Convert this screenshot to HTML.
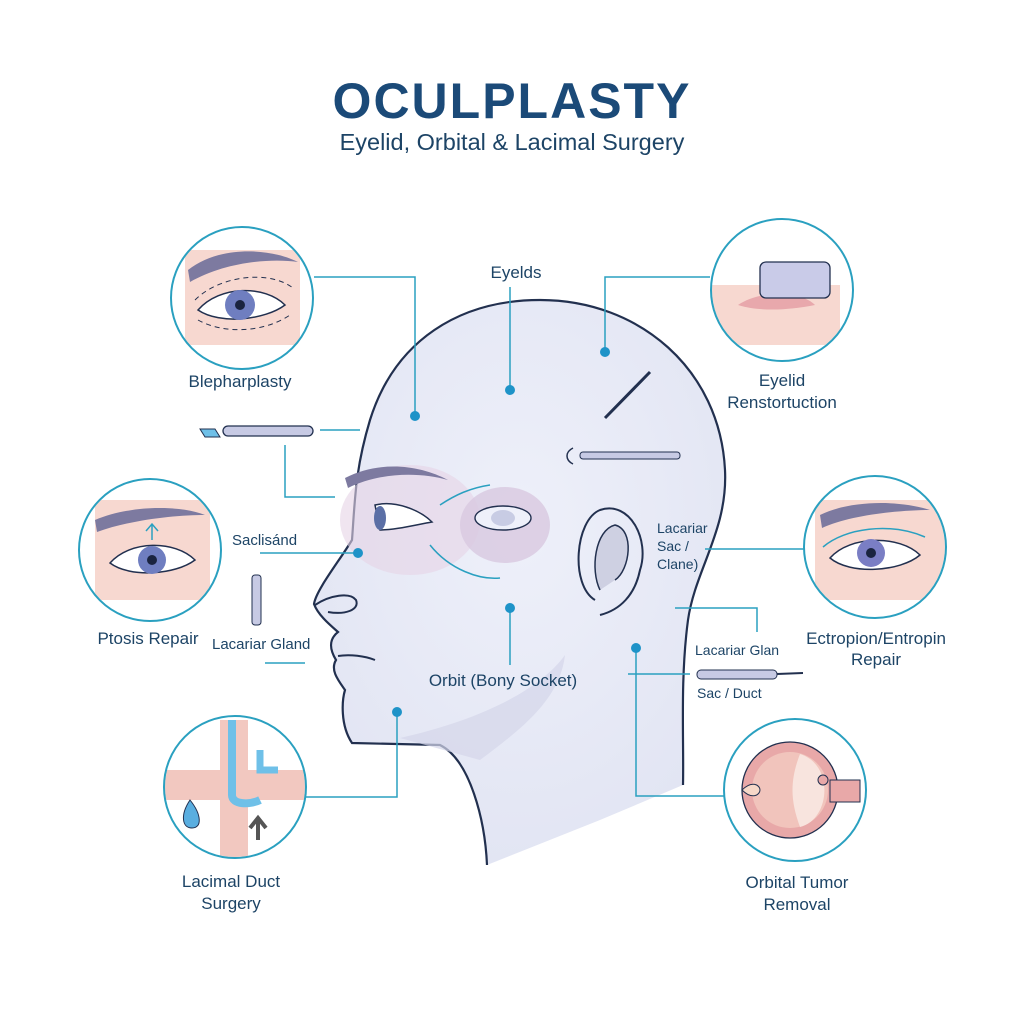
<!DOCTYPE html>
<html><head><meta charset="utf-8"><style>
html,body{margin:0;padding:0;background:#fff}
svg{display:block}
text{font-family:"Liberation Sans",sans-serif;fill:#1d4466}
</style></head><body>
<svg width="1024" height="1024" viewBox="0 0 1024 1024">
<defs>
<radialGradient id="hg" cx="0.5" cy="0.4" r="0.6"><stop offset="0" stop-color="#eef0fa"/><stop offset="1" stop-color="#e2e5f3"/></radialGradient>
<clipPath id="c1"><circle cx="242" cy="298" r="70"/></clipPath>
<clipPath id="c2"><circle cx="782" cy="290" r="70"/></clipPath>
<clipPath id="c3"><circle cx="150" cy="550" r="70"/></clipPath>
<clipPath id="c4"><circle cx="875" cy="547" r="70"/></clipPath>
<clipPath id="c5"><circle cx="235" cy="787" r="70"/></clipPath>
<clipPath id="c6"><circle cx="795" cy="790" r="70"/></clipPath>
</defs>
<text x="512" y="118" text-anchor="middle" font-size="50" font-weight="bold" letter-spacing="2" style="fill:#1b4a78">OCULPLASTY</text>
<text x="512" y="150" text-anchor="middle" font-size="23.5">Eyelid, Orbital &amp; Lacimal Surgery</text>

<path d="M487,865 C485,820 470,760 440,745 L352,743 C340,725 342,700 345,690 C338,680 330,670 336,660 C330,650 328,640 338,632 C330,625 318,615 314,604 C316,590 340,560 352,540 C355,500 355,470 370,420 C395,340 460,300 540,300 C640,300 720,370 725,470 C728,530 695,570 688,620 C680,680 684,740 683,785 L600,820 Z" fill="url(#hg)"/>
<path d="M487,865 C485,820 470,760 440,745 L352,743 C340,725 342,700 345,690 C338,680 330,670 336,660 C330,650 328,640 338,632 C330,625 318,615 314,604 C316,590 340,560 352,540 C355,500 355,470 370,420 C395,340 460,300 540,300 C640,300 720,370 725,470 C728,530 695,570 688,620 C680,680 684,740 683,785" fill="none" stroke="#22304f" stroke-width="2.2"/>
<path d="M400,738 C480,720 540,690 565,655 C560,700 520,730 480,760 Z" fill="#d4d5ea" opacity="0.7"/>
<path d="M315,605 C330,595 350,592 356,600 C360,610 345,615 328,612" fill="none" stroke="#22304f" stroke-width="2"/>
<path d="M338,656 C350,654 365,656 375,660" fill="none" stroke="#22304f" stroke-width="2"/>
<ellipse cx="410" cy="520" rx="70" ry="55" fill="#e6d4e6" opacity="0.6"/>
<path d="M345,478 C380,460 420,465 448,480 C420,472 380,472 348,488 Z" fill="#7d7aa0"/>
<path d="M375,505 C395,500 420,510 432,522 C415,525 395,530 380,530 Z" fill="#fff" stroke="#22304f" stroke-width="1.5"/>
<ellipse cx="380" cy="518" rx="6" ry="12" fill="#5b6fa6"/>
<ellipse cx="505" cy="525" rx="45" ry="38" fill="#d8c8e0" opacity="0.8"/>
<ellipse cx="503" cy="518" rx="28" ry="12" fill="#eef0fa" stroke="#22304f" stroke-width="1.4"/>
<ellipse cx="503" cy="518" rx="12" ry="8" fill="#c8cce4"/>
<path d="M430,545 C450,570 480,580 500,578 M440,505 C455,495 470,488 490,485" fill="none" stroke="#2aa0c0" stroke-width="1.5"/>
<path d="M595,600 C570,585 575,520 600,510 C630,500 650,540 640,570 C635,595 620,610 600,615" fill="none" stroke="#22304f" stroke-width="2"/>
<path d="M600,590 C590,570 595,530 615,525 C635,530 630,570 615,580" fill="#ced0e2" stroke="#22304f" stroke-width="1.5"/>
<g stroke="#2aa0c0" stroke-width="1.5" fill="none">
<path d="M314,277 H415 V415"/>
<path d="M510,287 V388"/>
<path d="M605,352 V277 H710"/>
<path d="M320,430 H360"/>
<path d="M285,445 V497 H335"/>
<path d="M260,553 H357"/>
<path d="M265,663 H305"/>
<path d="M510,605 V665"/>
<path d="M305,797 H397 V711"/>
<path d="M705,549 H805"/>
<path d="M675,608 H757 V632"/>
<path d="M628,674 H690"/>
<path d="M636,648 V796 H725"/>
</g>
<g fill="#1e93c8">
<circle cx="415" cy="416" r="5"/><circle cx="510" cy="390" r="5"/><circle cx="605" cy="352" r="5"/>
<circle cx="358" cy="553" r="5"/><circle cx="510" cy="608" r="5"/><circle cx="397" cy="712" r="5"/><circle cx="636" cy="648" r="5"/>
</g>
<path d="M200,429 H215 L220,437 H205 Z" fill="#6fc0e8" stroke="#22304f"/>
<rect x="223" y="426" width="90" height="10" rx="5" fill="#c7cae4" stroke="#22304f" stroke-width="1.3"/>
<path d="M605,418 L650,372" stroke="#22304f" stroke-width="3"/>
<rect x="580" y="452" width="100" height="7" rx="3" fill="#c7cae4" stroke="#22304f"/>
<path d="M573,448 C565,452 565,460 573,464" fill="none" stroke="#22304f" stroke-width="1.5"/>
<rect x="252" y="575" width="9" height="50" rx="3" fill="#c7cae4" stroke="#22304f"/>
<rect x="697" y="670" width="80" height="9" rx="4" fill="#c7cae4" stroke="#22304f"/>
<path d="M777,674 L803,673" stroke="#22304f" stroke-width="2"/>
<text x="516" y="278" text-anchor="middle" font-size="17">Eyelds</text>
<text x="240" y="387" text-anchor="middle" font-size="17">Blepharplasty</text>
<text x="782" y="386" text-anchor="middle" font-size="17">Eyelid</text>
<text x="782" y="408" text-anchor="middle" font-size="17">Renstortuction</text>
<text x="232" y="545" font-size="15">Saclisánd</text>
<text x="148" y="644" text-anchor="middle" font-size="17">Ptosis Repair</text>
<text x="212" y="649" font-size="15">Lacariar Gland</text>
<text x="657" y="533" font-size="14">Lacariar</text>
<text x="657" y="551" font-size="14">Sac /</text>
<text x="657" y="569" font-size="14">Clane)</text>
<text x="876" y="644" text-anchor="middle" font-size="17">Ectropion/Entropin</text>
<text x="876" y="665" text-anchor="middle" font-size="17">Repair</text>
<text x="695" y="655" font-size="14">Lacariar Glan</text>
<text x="697" y="698" font-size="14">Sac / Duct</text>
<text x="503" y="686" text-anchor="middle" font-size="17">Orbit (Bony Socket)</text>
<text x="231" y="887" text-anchor="middle" font-size="17">Lacimal Duct</text>
<text x="231" y="909" text-anchor="middle" font-size="17">Surgery</text>
<text x="797" y="888" text-anchor="middle" font-size="17">Orbital Tumor</text>
<text x="797" y="910" text-anchor="middle" font-size="17">Removal</text>
<g clip-path="url(#c1)"><rect x="185" y="250" width="115" height="95" fill="#f7d8d0"/>
<path d="M188,270 C220,245 270,248 298,262 C270,258 225,262 190,282 Z" fill="#7d7aa0"/>
<path d="M198,310 C220,285 265,285 285,305 C265,320 220,325 198,310 Z" fill="#fff" stroke="#22304f" stroke-width="1.5"/>
<circle cx="240" cy="305" r="15" fill="#6f7ec0"/><circle cx="240" cy="305" r="5" fill="#1a2440"/>
<path d="M195,300 C220,275 270,270 293,288 M198,320 C225,335 265,332 290,315" fill="none" stroke="#22304f" stroke-dasharray="5 4"/></g>
<circle cx="242" cy="298" r="71" fill="none" stroke="#2aa0c0" stroke-width="2"/>
<g clip-path="url(#c2)"><rect x="705" y="285" width="135" height="60" fill="#f7d8d0"/>
<path d="M738,305 C760,290 800,290 815,305 C790,310 760,312 738,305 Z" fill="#e8a8ac"/>
<rect x="760" y="262" width="70" height="36" rx="6" fill="#c9cbe8" stroke="#22304f" stroke-width="1.3"/></g>
<circle cx="782" cy="290" r="71" fill="none" stroke="#2aa0c0" stroke-width="2"/>
<g clip-path="url(#c3)"><rect x="95" y="500" width="115" height="100" fill="#f7d8d0"/>
<path d="M95,520 C130,505 180,505 205,515 C175,515 130,520 97,532 Z" fill="#7d7aa0"/>
<path d="M110,563 C130,540 175,540 195,560 C175,575 130,578 110,563 Z" fill="#fff" stroke="#22304f" stroke-width="1.5"/>
<circle cx="152" cy="560" r="14" fill="#6f7ec0"/><circle cx="152" cy="560" r="5" fill="#1a2440"/>
<path d="M152,540 V525 M146,531 L152,524 L158,531" fill="none" stroke="#2aa0c0" stroke-width="1.5"/></g>
<circle cx="150" cy="550" r="71" fill="none" stroke="#2aa0c0" stroke-width="2"/>
<g clip-path="url(#c4)"><rect x="815" y="500" width="130" height="100" fill="#f7d8d0"/>
<path d="M820,515 C850,500 900,500 930,510 C900,510 850,515 822,528 Z" fill="#7d7aa0"/>
<path d="M830,558 C850,535 900,535 920,555 C900,572 850,575 830,558 Z" fill="#fff" stroke="#22304f" stroke-width="1.5"/>
<circle cx="871" cy="553" r="14" fill="#7a7ec4"/><circle cx="871" cy="553" r="5" fill="#1a2440"/>
<path d="M823,547 C845,528 890,522 925,537" fill="none" stroke="#2aa0c0" stroke-width="1.5"/></g>
<circle cx="875" cy="547" r="71" fill="none" stroke="#2aa0c0" stroke-width="2"/>
<g clip-path="url(#c5)"><rect x="165" y="770" width="140" height="30" fill="#f2c8c0"/>
<rect x="220" y="720" width="28" height="140" fill="#f2c8c0"/>
<path d="M232,720 V795 C232,805 250,805 260,800" fill="none" stroke="#6fc0e8" stroke-width="8"/>
<path d="M190,800 C180,815 182,828 192,828 C202,828 202,815 190,800 Z" fill="#5aaee0" stroke="#22304f"/>
<path d="M258,840 V820 M250,828 L258,818 L266,828" stroke="#555" stroke-width="4" fill="none"/>
<path d="M260,750 V770 H278" stroke="#6fc0e8" stroke-width="7" fill="none"/></g>
<circle cx="235" cy="787" r="71" fill="none" stroke="#2aa0c0" stroke-width="2"/>
<g clip-path="url(#c6)">
<circle cx="790" cy="790" r="48" fill="#e8a8a8" stroke="#22304f" stroke-width="1.3"/>
<circle cx="790" cy="790" r="38" fill="#f1c4bc"/>
<path d="M800,754 C790,780 790,800 800,827 C830,820 835,765 800,754 Z" fill="#f8e4de"/>
<rect x="830" y="780" width="30" height="22" fill="#e8a8a8" stroke="#22304f"/>
<path d="M742,790 C752,780 760,785 760,790 C760,795 752,800 742,790" fill="#f6d8c8" stroke="#22304f"/>
<circle cx="823" cy="780" r="5" fill="#e8a8a8" stroke="#22304f"/></g>
<circle cx="795" cy="790" r="71" fill="none" stroke="#2aa0c0" stroke-width="2"/>
</svg>
</body></html>
